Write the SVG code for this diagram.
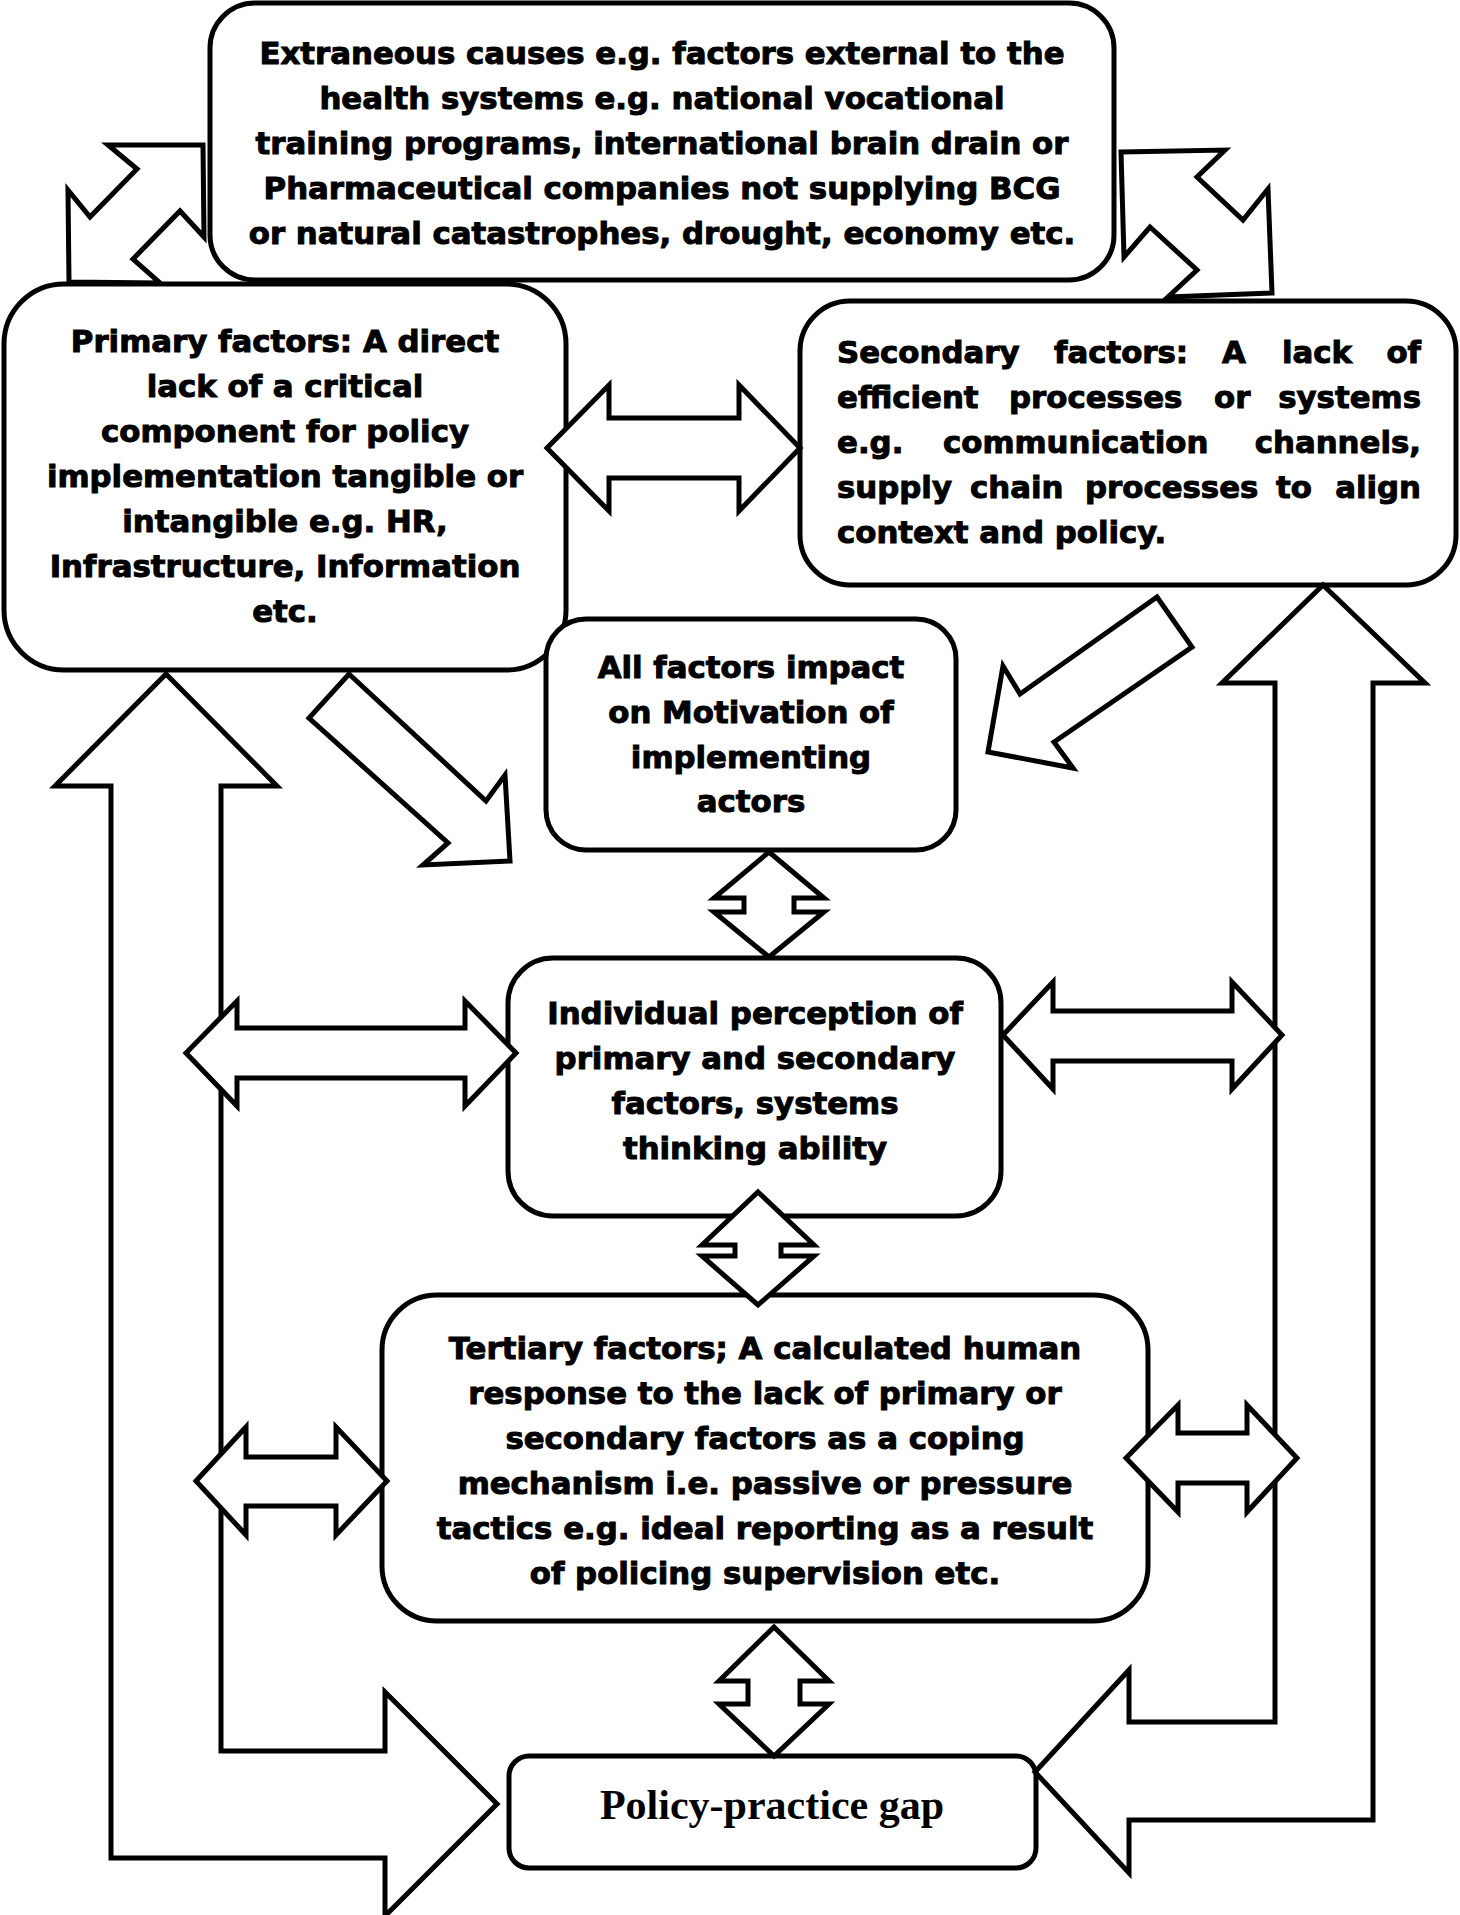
<svg xmlns="http://www.w3.org/2000/svg" width="1460" height="1915" viewBox="0 0 1460 1915">
<style>
.box{fill:#fff;stroke:#000;stroke-width:5}
.ar{fill:#fff;stroke:#000;stroke-width:5;stroke-linejoin:miter;stroke-miterlimit:10}
.t{font-family:"DejaVu Sans",sans-serif;font-weight:bold;font-size:30.8px;text-anchor:middle;fill:#000;stroke:#000;stroke-width:1}
.j{text-anchor:start}
.e{text-anchor:end}
.p{font-family:"Liberation Serif","Times New Roman",serif;font-weight:bold;font-size:42px;text-anchor:middle;fill:#000}
</style>
<rect width="1460" height="1915" fill="#fff"/>
<g id="nodes">
<g id="extraneous">
<rect class="box" x="210" y="3" width="904" height="277" rx="45"/>
<text class="t" x="662" y="64">Extraneous causes e.g. factors external to the</text>
<text class="t" x="662" y="109">health systems e.g. national vocational</text>
<text class="t" x="662" y="154">training programs, international brain drain or</text>
<text class="t" x="662" y="199">Pharmaceutical companies not supplying BCG</text>
<text class="t" x="662" y="244">or natural catastrophes, drought, economy etc.</text>
</g>
<g id="primary">
<rect class="box" x="4" y="284" width="562" height="386" rx="60"/>
<text class="t" x="285" y="352">Primary factors: A direct</text>
<text class="t" x="285" y="397">lack of a critical</text>
<text class="t" x="285" y="442">component for policy</text>
<text class="t" x="285" y="487">implementation tangible or</text>
<text class="t" x="285" y="532">intangible e.g. HR,</text>
<text class="t" x="285" y="577">Infrastructure, Information</text>
<text class="t" x="285" y="622">etc.</text>
</g>
<g id="secondary">
<rect class="box" x="800" y="301" width="656" height="284" rx="50"/>
<text class="t j" y="363"><tspan x="837">Secondary</tspan><tspan x="1054">factors:</tspan><tspan x="1222">A</tspan><tspan x="1282">lack</tspan><tspan class="e" x="1421">of</tspan></text>
<text class="t j" y="408"><tspan x="837">efficient</tspan><tspan x="1009">processes</tspan><tspan x="1214">or</tspan><tspan class="e" x="1421">systems</tspan></text>
<text class="t j" y="453"><tspan x="837">e.g.</tspan><tspan x="943">communication</tspan><tspan class="e" x="1421">channels,</tspan></text>
<text class="t j" y="498"><tspan x="837">supply</tspan><tspan x="970">chain</tspan><tspan x="1085">processes</tspan><tspan x="1276">to</tspan><tspan class="e" x="1421">align</tspan></text>
<text class="t j" x="837" y="543">context and policy.</text>
</g>
<g id="motivation">
<rect class="box" x="546" y="619" width="410" height="231" rx="40"/>
<text class="t" x="751" y="678">All factors impact</text>
<text class="t" x="751" y="723">on Motivation of</text>
<text class="t" x="751" y="768">implementing</text>
<text class="t" x="751" y="812">actors</text>
</g>
<g id="individual">
<rect class="box" x="508" y="958" width="493" height="258" rx="45"/>
<text class="t" x="755" y="1024">Individual perception of</text>
<text class="t" x="755" y="1069">primary and secondary</text>
<text class="t" x="755" y="1114">factors, systems</text>
<text class="t" x="755" y="1159">thinking ability</text>
</g>
<g id="tertiary">
<rect class="box" x="382" y="1295" width="766" height="326" rx="55"/>
<text class="t" x="765" y="1359">Tertiary factors; A calculated human</text>
<text class="t" x="765" y="1404">response to the lack of primary or</text>
<text class="t" x="765" y="1449">secondary factors as a coping</text>
<text class="t" x="765" y="1494">mechanism i.e. passive or pressure</text>
<text class="t" x="765" y="1539">tactics e.g. ideal reporting as a result</text>
<text class="t" x="765" y="1584">of policing supervision etc.</text>
</g>
<g id="policy-gap">
<rect class="box" x="509" y="1756" width="527" height="112" rx="20"/>
<text class="p" x="772" y="1819">Policy-practice gap</text>
</g>
</g>
<g id="connectors">
<polygon class="ar" points="166,674 277,786 221,786 221,1751 385,1751 385,1692 497,1804 385,1916 385,1858 111,1858 111,786 55,786"/>
<polygon class="ar" points="1323,585 1425,683 1373,683 1373,1820 1129,1820 1129,1873 1035,1772 1129,1670 1129,1722 1275,1722 1275,683 1222,683"/>
<polygon class="ar" points="108,145 203,145 204,237 180,211 133,259 160,283 69,282 68,190 90,217 137,169"/>
<polygon class="ar" points="1121,152 1225,150 1197,177 1243,220 1268,189 1272,293 1168,297 1197,270 1150,227 1124,257"/>
<polygon class="ar" points="547,448 609,385 609,418 739,418 739,385 800,448 739,511 739,478 609,478 609,511"/>
<polygon class="ar" points="349,674 486,801 505,775 510,861 423,865 448,843 309,718"/>
<polygon class="ar" points="1157,597 1192,647 1054,742 1073,768 988,752 1003,666 1020,694"/>
<polygon class="ar" points="769,852 824,898 794,898 794,912 824,912 769,957 714,912 744,912 744,898 714,898"/>
<polygon class="ar" points="758,1192 814,1245 781,1245 781,1256 814,1256 758,1305 702,1256 735,1256 735,1245 702,1245"/>
<polygon class="ar" points="774,1627 829,1681 800,1681 800,1704 829,1704 774,1756 719,1704 748,1704 748,1681 719,1681"/>
<polygon class="ar" points="186,1053 237,1001 237,1028 465,1028 465,1001 516,1053 465,1106 465,1078 237,1078 237,1106"/>
<polygon class="ar" points="1003,1035 1053,982 1053,1011 1232,1011 1232,982 1282,1035 1232,1089 1232,1061 1053,1061 1053,1089"/>
<polygon class="ar" points="196,1481 246,1427 246,1457 336,1457 336,1427 387,1481 336,1535 336,1506 246,1506 246,1535"/>
<polygon class="ar" points="1126,1458 1178,1405 1178,1433 1247,1433 1247,1405 1297,1458 1247,1512 1247,1483 1178,1483 1178,1512"/>
</g>
</svg>
